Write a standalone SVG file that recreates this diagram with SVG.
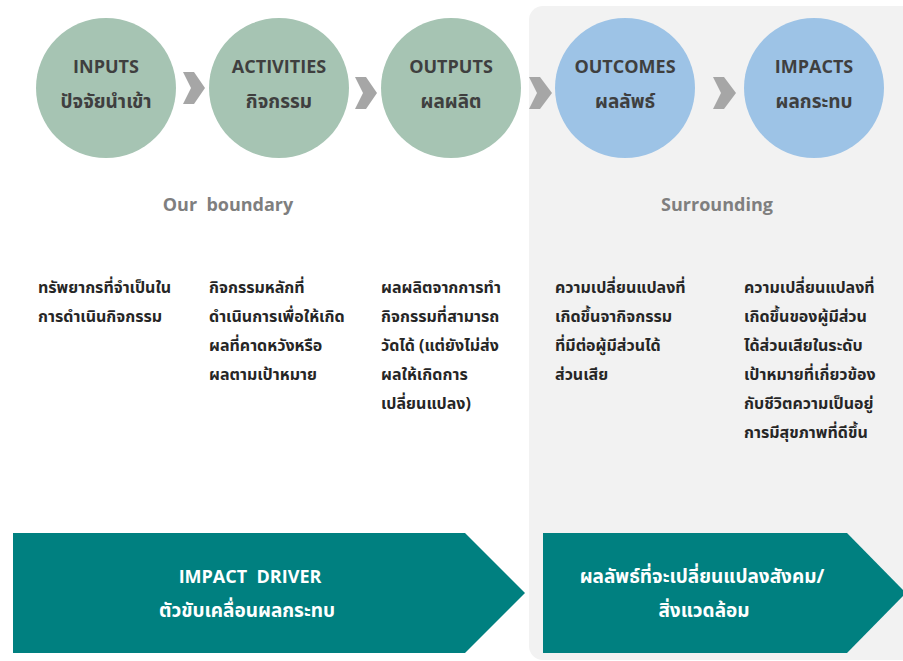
<svg xmlns="http://www.w3.org/2000/svg" width="903" height="661" viewBox="0 0 903 661">
<style>
.bg{fill:#ffffff}
.panel{fill:#f2f2f2}
.green{fill:#a6c4b3}
.blue{fill:#9dc3e6}
.chev{fill:#a6a6a6}
.band{fill:#008080}
.lbl{font-family:"Open Sans","Noto Sans Thai","Noto Sans",sans-serif;font-weight:bold;font-size:18px;fill:#3f3f3f;text-anchor:middle}
.th{font-size:19px}
.sec{font-family:"Open Sans","Noto Sans",sans-serif;font-weight:bold;font-size:18px;fill:#7f7f7f;text-anchor:middle}
.desc{font-family:"Noto Sans Thai","Noto Sans","Open Sans",sans-serif;font-weight:bold;font-size:16px;fill:#262626}
.wt{font-family:"Open Sans","Noto Sans Thai","Noto Sans",sans-serif;font-weight:bold;font-size:18px;fill:#ffffff;text-anchor:middle}
.wth{font-size:19px}
</style>
<rect class="bg" x="0" y="0" width="903" height="661"/>
<rect id="surrounding-panel" class="panel" x="529" y="6" width="394" height="654" rx="14" ry="14"/>

<g id="connectors">
<polygon class="chev" points="183,72 194,72 205,88 194,104 183,104 191,88"/>
<polygon class="chev" points="355,77 366,77 377,93 366,109 355,109 363,93"/>
<polygon class="chev" points="529,77 540,77 552,93 540,109 529,109 537,93"/>
<polygon class="chev" points="713,77 724,77 736,93 724,109 713,109 721,93"/>
</g>

<g id="inputs">
<circle class="green" cx="106" cy="88" r="70"/>
<text class="lbl" x="106" y="73">INPUTS</text>
<text class="lbl th" x="106" y="108">ปัจจัยนำเข้า</text>
</g>
<g id="activities">
<circle class="green" cx="279" cy="88" r="70"/>
<text class="lbl" x="279" y="73">ACTIVITIES</text>
<text class="lbl th" x="279" y="108">กิจกรรม</text>
</g>
<g id="outputs">
<circle class="green" cx="451" cy="88" r="70"/>
<text class="lbl" x="451" y="73">OUTPUTS</text>
<text class="lbl th" x="451" y="108">ผลผลิต</text>
</g>
<g id="outcomes">
<circle class="blue" cx="625" cy="88" r="70"/>
<text class="lbl" x="625" y="73">OUTCOMES</text>
<text class="lbl th" x="625" y="108">ผลลัพธ์</text>
</g>
<g id="impacts">
<circle class="blue" cx="814" cy="88" r="70"/>
<text class="lbl" x="814" y="73">IMPACTS</text>
<text class="lbl th" x="814" y="108">ผลกระทบ</text>
</g>

<g id="section-labels">
<text class="sec" x="228" y="211" xml:space="preserve">Our  boundary</text>
<text class="sec" x="717" y="211">Surrounding</text>
</g>

<g id="descriptions">
<text class="desc" x="38" y="293">ทรัพยากรที่จำเป็นใน</text>
<text class="desc" x="38" y="322">การดำเนินกิจกรรม</text>

<text class="desc" x="209" y="293">กิจกรรมหลักที่</text>
<text class="desc" x="209" y="322">ดำเนินการเพื่อให้เกิด</text>
<text class="desc" x="209" y="351">ผลที่คาดหวังหรือ</text>
<text class="desc" x="209" y="380">ผลตามเป้าหมาย</text>

<text class="desc" x="381" y="293">ผลผลิตจากการทำ</text>
<text class="desc" x="381" y="322">กิจกรรมที่สามารถ</text>
<text class="desc" x="381" y="351">วัดได้ (แต่ยังไม่ส่ง</text>
<text class="desc" x="381" y="380">ผลให้เกิดการ</text>
<text class="desc" x="381" y="409">เปลี่ยนแปลง)</text>

<text class="desc" x="555" y="293">ความเปลี่ยนแปลงที่</text>
<text class="desc" x="555" y="322">เกิดขึ้นจากิจกรรม</text>
<text class="desc" x="555" y="351">ที่มีต่อผู้มีส่วนได้</text>
<text class="desc" x="555" y="380">ส่วนเสีย</text>

<text class="desc" x="744" y="293">ความเปลี่ยนแปลงที่</text>
<text class="desc" x="744" y="322">เกิดขึ้นของผู้มีส่วน</text>
<text class="desc" x="744" y="351">ได้ส่วนเสียในระดับ</text>
<text class="desc" x="744" y="380">เป้าหมายที่เกี่ยวข้อง</text>
<text class="desc" x="744" y="409">กับชีวิตความเป็นอยู่</text>
<text class="desc" x="744" y="438">การมีสุขภาพที่ดีขึ้น</text>
</g>

<g id="impact-driver">
<polygon class="band" points="13,533 465,533 525,593 465,653 13,653"/>
<text class="wt" x="250" y="583" xml:space="preserve">IMPACT  DRIVER</text>
<text class="wt wth" x="247" y="617">ตัวขับเคลื่อนผลกระทบ</text>
</g>
<g id="social-outcome">
<polygon class="band" points="543,533 847,533 906,593 847,653 543,653"/>
<text class="wt wth" x="702" y="583">ผลลัพธ์ที่จะเปลี่ยนแปลงสังคม/</text>
<text class="wt wth" x="704" y="617">สิ่งแวดล้อม</text>
</g>
</svg>
